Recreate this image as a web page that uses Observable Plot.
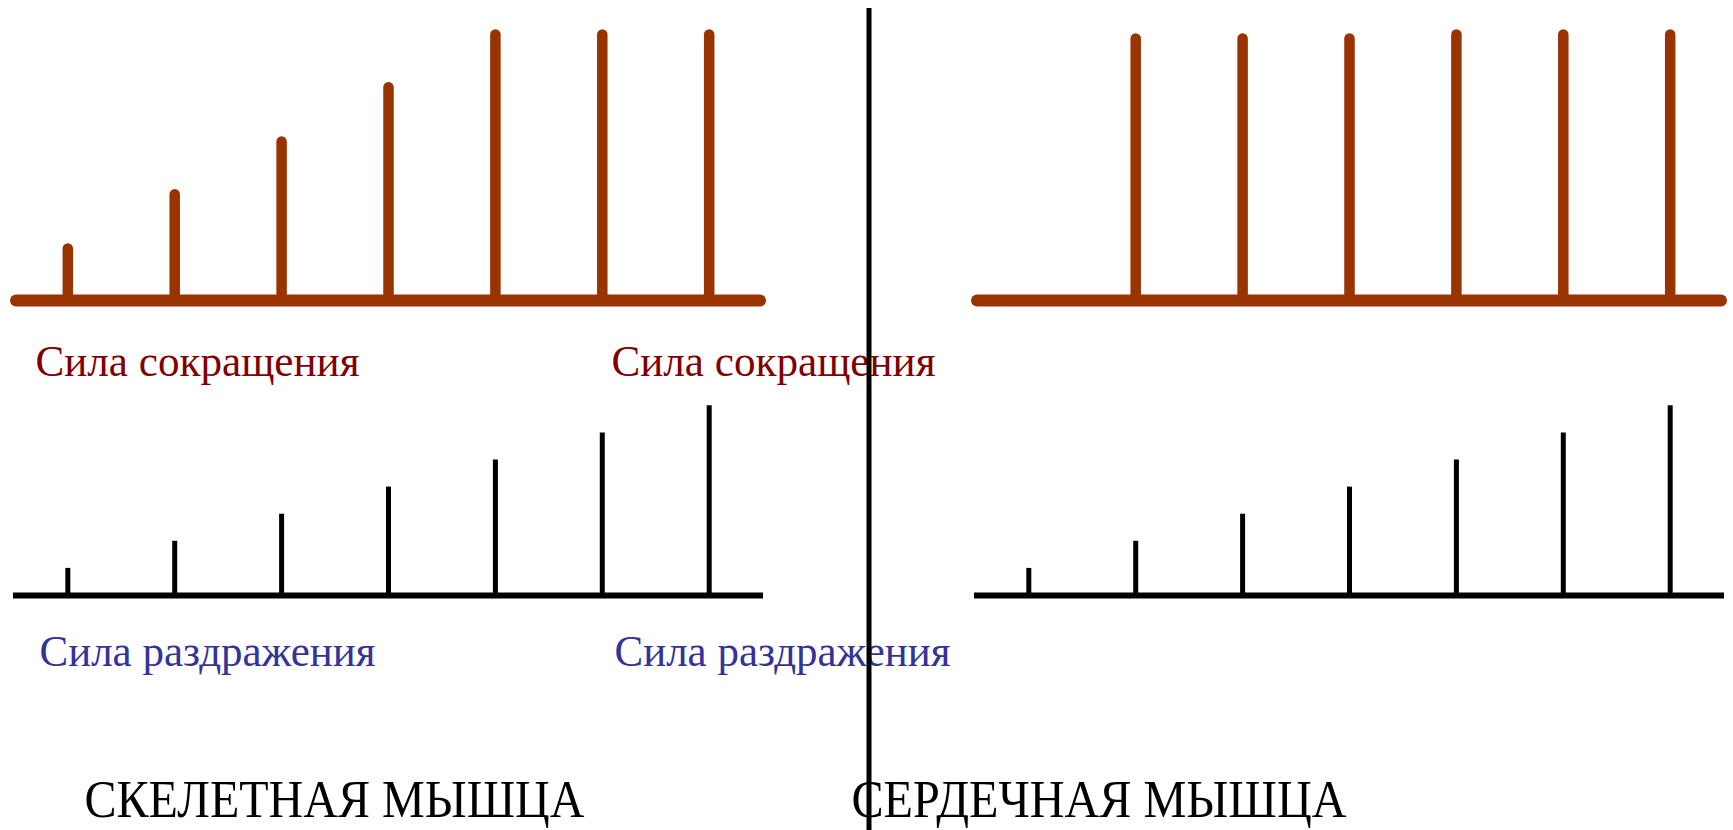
<!DOCTYPE html>
<html>
<head>
<meta charset="utf-8">
<script src="https://cdn.jsdelivr.net/npm/d3@7"></script>
<script src="https://cdn.jsdelivr.net/npm/@observablehq/plot@0.6"></script>
<style>
  html, body { margin: 0; padding: 0; background: #ffffff; }
  #chart svg { display: block; }
</style>
</head>
<body>
<div id="chart"></div>
<script>
// ---------- data ----------
const muscles = ["СКЕЛЕТНАЯ МЫШЦА", "СЕРДЕЧНАЯ МЫШЦА"];
const rowLabels = ["Сила сокращения", "Сила раздражения"];
const stimuli = [1, 2, 3, 4, 5, 6, 7];
const skeletalStimulus = [1, 2, 3, 4, 5, 6, 7];
const cardiacStimulus = [1, 2, 3, 4, 5, 6, 7];
const skeletalContraction = [1.9, 3.9, 5.85, 7.85, 9.8, 9.8, 9.8];
const cardiacContraction = [null, 9.65, 9.65, 9.65, 9.8, 9.8, 9.8];

// ---------- tables built from the arrays ----------
const contractionRows = [
  ...stimuli.map((s, i) => ({muscle: muscles[0], row: rowLabels[0], stimulus: s, value: skeletalContraction[i]})),
  ...stimuli.map((s, i) => ({muscle: muscles[1], row: rowLabels[0], stimulus: s, value: cardiacContraction[i]}))
].filter(d => d.value != null);
const stimulusRows = [
  ...stimuli.map((s, i) => ({muscle: muscles[0], row: rowLabels[1], stimulus: s, value: skeletalStimulus[i]})),
  ...stimuli.map((s, i) => ({muscle: muscles[1], row: rowLabels[1], stimulus: s, value: cardiacStimulus[i]}))
];
const panels = muscles.flatMap(m => rowLabels.map(r => ({muscle: m, row: r})));
const topPanels = panels.filter(d => d.row === rowLabels[0]);
const bottomPanels = panels.filter(d => d.row === rowLabels[1]);

// ---------- layout / style ----------
const W = 1733, H = 830;
const mLeft = 16, mRight = 12, mTop = 10, mBottom = 235;
const bandW = 744, stepX = 961;
const bandH = 290, stepY = 295;
const brown = "#993300", red = "#800000", blue = "#333399";
const serif = '"Liberation Serif", "Times New Roman", Times, serif';
const labelSize = 44, titleSize = 53;
const gapHalf = (stepX - bandW) / 2;
const xDomain = [0.52, 7.48];

function label(muscleIdx, rowIdx, text, opts) {
  return Plot.text([{muscle: muscles[muscleIdx], row: rowLabels[rowIdx], text}], {
    fx: "muscle", fy: "row", text: "text",
    frameAnchor: "bottom-left", textAnchor: "start", lineAnchor: "bottom",
    fontFamily: serif, ...opts
  });
}

const chart = Plot.plot({
  width: W,
  height: H,
  marginLeft: mLeft, marginRight: mRight, marginTop: mTop, marginBottom: mBottom,
  style: {background: "#ffffff"},
  fx: {domain: muscles, axis: null, paddingInner: 1 - bandW / stepX, paddingOuter: 0, round: false},
  fy: {domain: rowLabels, axis: null, paddingInner: 1 - bandH / stepY, paddingOuter: 0, round: false},
  x: {type: "linear", domain: xDomain, axis: null},
  y: {type: "linear", domain: [0, bandH / 27.1], axis: null},
  marks: [
    // contraction stems
    Plot.ruleX(contractionRows, {x: "stimulus", y1: 0, y2: "value", fx: "muscle", fy: "row",
      stroke: brown, strokeWidth: 10.5, strokeLinecap: "round"}),
    // contraction baseline
    Plot.ruleY(topPanels, {y: 0, fx: "muscle", fy: "row", stroke: brown, strokeWidth: 12, strokeLinecap: "round"}),
    // stimulus stems
    Plot.ruleX(stimulusRows, {x: "stimulus", y1: 0, y2: "value", fx: "muscle", fy: "row",
      stroke: "#000000", strokeWidth: 5}),
    // stimulus baseline
    Plot.ruleY(bottomPanels, {y: 0, fx: "muscle", fy: "row", stroke: "#000000", strokeWidth: 6, strokeLinecap: "square"}),
    // labels
    label(0, 0, rowLabels[0], {dx: 19, dy: 75, fill: red, fontSize: labelSize}),
    label(1, 0, rowLabels[0], {dx: -366, dy: 75, fill: red, fontSize: labelSize}),
    label(0, 1, rowLabels[1], {dx: 23, dy: 70, fill: blue, fontSize: labelSize}),
    label(1, 1, rowLabels[1], {dx: -363, dy: 70, fill: blue, fontSize: labelSize}),
    label(0, 1, muscles[0], {dx: 68, dy: 221, fill: "#000000", fontSize: titleSize}),
    label(1, 1, muscles[1], {dx: -126, dy: 221, fill: "#000000", fontSize: titleSize}),
    // vertical divider between the two muscles
    Plot.ruleX([{muscle: muscles[1], row: rowLabels[0]}], {x: () => xDomain[0], fx: "muscle", fy: "row",
      dx: -gapHalf, insetTop: -2, insetBottom: -(H - (mTop + bandH)),
      stroke: "#000000", strokeWidth: 5})
  ]
});

// condensed serif lettering as in the original
const textWidths = {
  "Сила сокращения": 324,
  "Сила раздражения": 336,
  "СКЕЛЕТНАЯ МЫШЦА": 500,
  "СЕРДЕЧНАЯ МЫШЦА": 495
};
d3.select(chart).selectAll("text").each(function() {
  const w = textWidths[this.textContent];
  if (w) d3.select(this).attr("textLength", w).attr("lengthAdjust", "spacingAndGlyphs");
});

document.getElementById("chart").appendChild(chart);
</script>
</body>
</html>
